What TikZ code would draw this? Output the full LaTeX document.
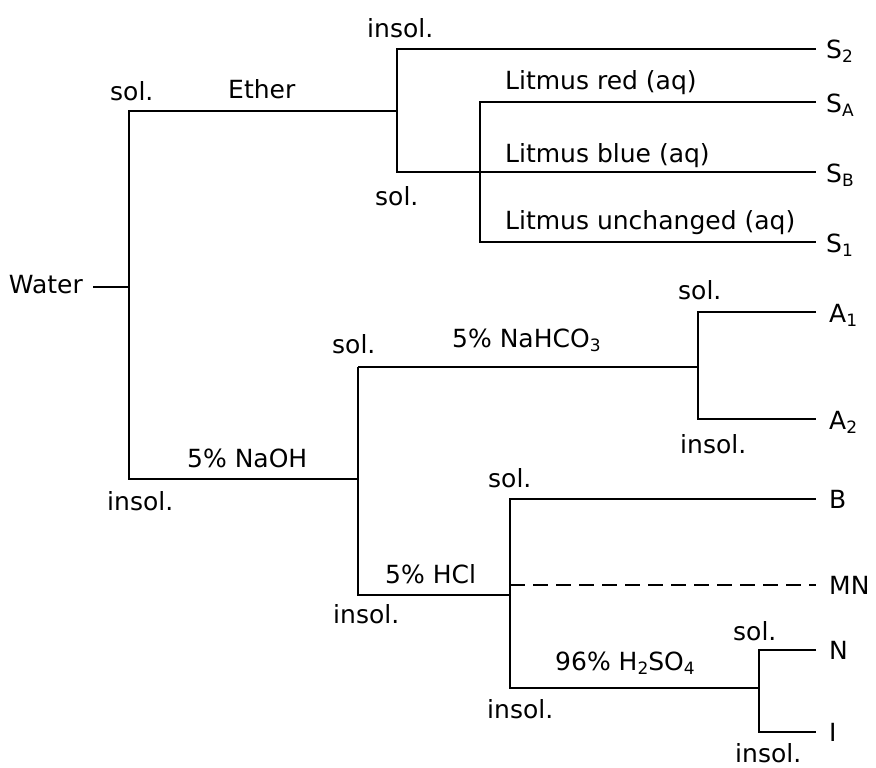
\documentclass[tikz,border=0pt]{standalone}
\usepackage{fontspec}
\setmainfont{DejaVu Sans}
\usetikzlibrary{positioning}
\newcommand\lowsub[1]{\raisebox{-4pt}{\fontsize{17}{20}\selectfont #1}}

\begin{document}
\begin{tikzpicture}[
  x=1pt,
  y=-1pt,
  branch/.style={draw,line width=2.2pt},
  nobranch/.style={branch,dash pattern=on 15pt off 8pt},
  lbl/.style={anchor=base west,inner sep=0pt,font=\fontsize{25}{30}\selectfont},
  leaf/.style={lbl,inner xsep=10pt},
  leafwide/.style={lbl,inner xsep=13pt}
]
\useasboundingbox (0,0) rectangle (876,768);

% start
\node[lbl,anchor=base east,inner xsep=10pt] (water) at (93,293) {Water};
\coordinate (w) at (129,287);
\coordinate (wsol) at (129,111);
\coordinate (wins) at (129,479);

% ether branch
\coordinate (eth) at (397,111);
\coordinate (ethins) at (397,49);
\coordinate (ethsol) at (397,172);
\coordinate (litred) at (480,102);
\coordinate (litunch) at (480,242);

% naoh branch
\coordinate (naoh) at (358,479);
\coordinate (naohsol) at (358,367);
\coordinate (naohins) at (358,595);
\coordinate (bicarb) at (698,367);
\coordinate (bicarbsol) at (698,312);
\coordinate (bicarbins) at (698,419);

% hcl branch
\coordinate (hcl) at (510,595);
\coordinate (hclsol) at (510,499);
\coordinate (hclmn) at (510,585);
\coordinate (hclins) at (510,688);
\coordinate (sulf) at (759,688);
\coordinate (sulfsol) at (759,650);
\coordinate (sulfins) at (759,732);

% classes
\node[leaf] (S2) at (816,59) {S\lowsub{2}};
\node[leaf] (SA) at (816,112) {S\lowsub{A}};
\node[leaf] (SB) at (816,182) {S\lowsub{B}};
\node[leaf] (S1) at (816,252) {S\lowsub{1}};
\node[leafwide] (A1) at (816,322) {A\lowsub{1}};
\node[leafwide] (A2) at (816,429) {A\lowsub{2}};
\node[leafwide] (B) at (816,508) {B};
\node[leafwide] (MN) at (816,594) {MN};
\node[leafwide] (N) at (816,659) {N};
\node[leafwide] (I) at (816,741) {I};

% tree
\draw[branch] (water.east |- w) -- (w);
\draw[branch] (eth) -- (wsol) -- (wins) -- (naoh);
\draw[branch] (ethins -| S2.west) -- (ethins) -- (ethsol) -- (ethsol -| SB.west);
\draw[branch] (litred -| SA.west) -- (litred) -- (litunch) -- (litunch -| S1.west);
\draw[branch] (naohsol) -- (naohins) -- (hcl);
\draw[branch] (naohsol) -- (bicarb);
\draw[branch] (bicarbsol -| A1.west) -- (bicarbsol) -- (bicarbins) -- (bicarbins -| A2.west);
\draw[branch] (hclsol -| B.west) -- (hclsol) -- (hclins) -- (sulf);
\draw[nobranch] (hclmn) -- (hclmn -| MN.west);
\draw[branch] (sulfsol -| N.west) -- (sulfsol) -- (sulfins) -- (sulfins -| I.west);

% reagents
\node[lbl] (tether) at (228,99) {Ether};
\node[lbl] (tred) at (505,90) {Litmus red (aq)};
\node[lbl] (tblue) at (505,162) {Litmus blue (aq)};
\node[lbl] (tunch) at (505,229) {Litmus unchanged (aq)};
\node[lbl] (tnaoh) at (187,467) {5\% NaOH};
\node[lbl] (tbicarb) at (452,347) {5\% NaHCO\lowsub{3}};
\node[lbl] (thcl) at (385,583) {5\% HCl};
\node[lbl] (tsulf) at (555,670) {96\% H\lowsub{2}SO\lowsub{4}};

% solubility
\node[lbl] (s1) at (110,100) {sol.};
\node[lbl] (i1) at (107,510) {insol.};
\node[lbl] (i2) at (367,38) {insol.};
\node[lbl] (s2) at (375,205) {sol.};
\node[lbl] (s3) at (332,353) {sol.};
\node[lbl] (s4) at (678,299) {sol.};
\node[lbl] (i4) at (680,453) {insol.};
\node[lbl] (s5) at (488,487) {sol.};
\node[lbl] (i3) at (333,623) {insol.};
\node[lbl] (i5) at (487,718) {insol.};
\node[lbl] (s6) at (733,640) {sol.};
\node[lbl] (i6) at (735,762) {insol.};
\end{tikzpicture}
\end{document}
